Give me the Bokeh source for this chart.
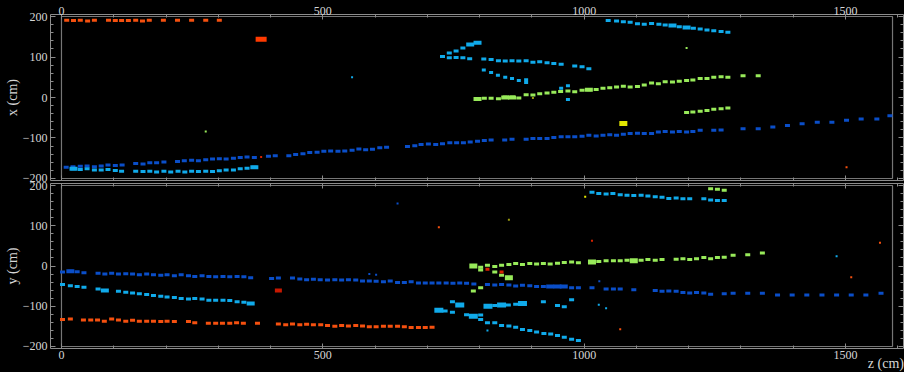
from bokeh.plotting import figure
from bokeh.layouts import column
from bokeh.models import Range1d, LinearAxis, SingleIntervalTicker, Div
from bokeh.embed import file_html
from bokeh.resources import INLINE

# ---------------- data : top view (z vs x) ----------------
tpc_z = [0, 1590]
tpc_edge = [-200, 200]

xz_A_z = [10, 23, 36, 50, 63, 90, 103, 115, 128, 142, 155, 168, 195, 222, 249, 276, 302]
xz_A_x = [191, 190, 191, 189, 191, 191, 190, 190, 190, 191, 189, 191, 191, 191, 191, 191, 191]

xz_B_z = [9, 22, 36, 49, 63, 76, 89, 103, 116, 142, 156, 169, 182, 196, 222, 235, 249, 262, 276, 289,
          302, 315, 329, 342, 355, 369, 396, 409, 435, 448, 462, 475, 489, 502, 515, 529, 542, 556, 569, 582,
          595, 609, 622, 662, 676, 688, 702, 716, 729, 743, 756, 769, 782, 796, 809, 822, 848, 862, 889, 902,
          915, 929, 942, 956, 969, 982, 996, 1009, 1023, 1036, 1049, 1062, 1075, 1088, 1102, 1115, 1129, 1142,
          1155, 1169, 1182, 1196, 1208, 1222, 1248, 1262, 1304, 1333, 1361, 1389, 1417, 1446, 1474, 1502, 1530,
          1560, 1585]
xz_B_x = [-172, -171, -170, -169, -171, -169, -167, -168, -167, -163, -164, -161, -161, -159, -158, -156, -155,
          -156, -154, -152, -151, -152, -150, -148, -147, -148, -145, -144, -144, -141, -139, -136, -135, -133,
          -132, -133, -132, -130, -127, -129, -128, -124, -123, -121, -119, -116, -115, -116, -114, -112, -112,
          -112, -110, -108, -106, -105, -105, -103, -103, -101, -101, -101, -99, -97, -97, -97, -96, -93, -95,
          -93, -92, -93, -91, -89, -88, -89, -89, -85, -84, -85, -84, -85, -84, -81, -81, -80, -77, -77, -73,
          -69, -65, -61, -61, -56, -53, -53, -45]

xz_C_z = [23, 36, 49, 63, 76, 89, 103, 115, 142, 156, 169, 182, 196, 209, 223, 236, 249, 262, 276, 289,
          302, 315, 329, 342, 355, 369]
xz_C_x = [-176, -178, -176, -179, -179, -178, -180, -182, -182, -183, -182, -184, -182, -184, -182, -184,
          -182, -183, -182, -183, -181, -179, -179, -176, -175, -172]

xz_D_z = [729, 742, 755, 768]
xz_D_x = [101, 110, 115, 122]
xz_D2_z = [742, 755, 768, 781, 808, 822, 836, 849, 862, 875, 889, 902, 915, 929, 942, 956, 982, 996, 1009]
xz_D2_x = [98, 99, 98, 96, 95, 94, 91, 90, 91, 90, 91, 87, 88, 86, 84, 82, 78, 76, 71]
xz_E_z = [808, 822, 835, 849, 862, 875, 889, 889, 956, 969, 969]
xz_E_x = [68, 62, 55, 50, 47, 42, 44, 37, 23, 29, -5]

xz_G_z = [1046, 1062, 1075, 1088, 1102, 1115, 1129, 1143, 1155, 1169, 1182, 1196, 1209, 1222, 1235, 1248,
          1262, 1275]
xz_G_x = [190, 189, 187, 186, 182, 181, 183, 181, 179, 178, 175, 173, 171, 169, 167, 165, 163, 161]

xz_F_z = [796, 809, 822, 836, 849, 863, 875, 889, 902, 915, 929, 942, 955, 969, 982, 996, 1009, 1023, 1036,
          1049, 1062, 1075, 1088, 1102, 1115, 1129, 1142, 1155, 1169, 1182, 1196, 1208, 1222, 1235, 1248,
          1262, 1275, 1304, 1333]
xz_F_x = [-4, -2, -2, -3, 1, 1, -1, 7, 6, 9, 11, 13, 15, 16, 14, 18, 19, 20, 23, 24, 26, 28, 26, 27, 31, 36,
          34, 39, 38, 40, 42, 43, 47, 47, 50, 51, 50, 54, 54]
xz_F2_z = [1196, 1208, 1222, 1235, 1248, 1262, 1275]
xz_F2_x = [-37, -36, -34, -32, -29, -28, -26]

xz_big_z = [23, 369, 782, 796, 796, 849, 862, 1009, 1169, 1196]
xz_big_x = [-176, -172, 131, 135, -4, 0, 0, 19, 178, 173]
xz_big_c = ["cyan", "cyan", "cyan", "cyan", "green", "green", "green", "green", "cyan", "cyan"]

xz_tiny_z = [382, 276, 1196, 1502, 902, 556]
xz_tiny_x = [-147, -84, 122, -172, -1, 50]
xz_tiny_c = ["red", "green", "green", "orange", "olive", "cyan"]

xz_orange_blob = (382, 144)
xz_yellow_blob = (1075, -64)

# ---------------- data : side view (z vs y) ----------------
yz_A_z = [2, 17, 42, 56, 69, 82, 96, 109, 123, 136, 149, 163, 176, 190, 202, 216, 243, 255, 281, 295,
          308, 322, 335, 348, 375, 415, 429, 442, 456, 469, 482, 496, 509, 523, 536, 549, 563, 576, 589, 602,
          616, 629, 643, 656, 669, 683, 696, 709]
yz_A_y = [-133, -132, -134, -134, -134, -137, -132, -134, -137, -135, -137, -137, -137, -138, -137, -138,
          -138, -141, -142, -142, -142, -142, -141, -142, -142, -144, -146, -144, -146, -145, -146, -146,
          -148, -150, -148, -149, -148, -149, -151, -151, -150, -150, -150, -151, -153, -153, -153, -152]

yz_B_z = [2, 17, 30, 43, 70, 83, 96, 109, 123, 136, 149, 163, 176, 190, 202, 216, 229, 243, 255, 269,
          282, 295, 309, 322, 336, 349, 362, 402, 415, 442, 456, 469, 482, 495, 509, 523, 536, 549, 563, 576,
          589, 602, 616, 629, 643, 656, 669, 683, 696, 709, 722, 736, 749, 762, 775, 789, 815, 829, 842, 856,
          869, 882, 896, 909, 922, 935, 949, 961, 976, 989, 1015, 1042, 1056, 1069, 1095, 1136, 1149, 1162,
          1176, 1189, 1202, 1215, 1229, 1242, 1268, 1285, 1313, 1341, 1370, 1398, 1426, 1455, 1483, 1511,
          1539, 1568]
yz_B_y = [-15, -13, -14, -17, -18, -20, -18, -20, -19, -20, -22, -20, -22, -23, -22, -24, -22, -24, -26, -24,
          -26, -27, -26, -27, -26, -27, -29, -31, -30, -30, -32, -34, -33, -34, -35, -34, -35, -34, -35, -37,
          -37, -38, -39, -37, -41, -41, -39, -42, -42, -42, -42, -42, -43, -42, -43, -45, -46, -47, -46, -47,
          -50, -48, -49, -51, -51, -51, -51, -51, -54, -54, -54, -57, -57, -57, -59, -61, -63, -62, -63, -66,
          -67, -66, -67, -70, -69, -68, -68, -68, -72, -72, -72, -72, -72, -72, -72, -68]

yz_C_z = [2, 17, 30, 43, 70, 83, 109, 123, 136, 149, 163, 176, 190, 202, 216, 229, 243, 255, 269, 282,
          295, 309, 322, 336, 349, 362]
yz_C_y = [-46, -49, -51, -53, -57, -61, -63, -65, -67, -69, -71, -73, -75, -77, -78, -81, -82, -81, -82, -85,
          -85, -85, -86, -89, -90, -93]

yz_mid_z = [734, 748, 748, 775, 802, 802, 829, 855, 869, 922, 949, 962, 976]
yz_mid_y = [-112, -115, -89, -121, -122, -133, -98, -97, -95, -89, -98, -101, -84]
yz_midbig_z = [722, 762, 788, 816, 842, 882]
yz_midbig_y = [-110, -97, -125, -100, -97, -93]

yz_low_z = [815, 829, 842, 856, 869, 882, 896, 909, 923, 936, 949, 962, 976, 989]
yz_low_y = [-141, -141, -148, -149, -152, -158, -160, -164, -168, -169, -173, -177, -182, -185]

yz_G_z = [1015, 1028, 1042, 1055, 1069, 1082, 1095, 1109, 1122, 1136, 1149, 1162, 1176, 1189, 1202, 1229,
          1242, 1255, 1268]
yz_G_y = [183, 180, 179, 180, 177, 176, 175, 176, 174, 172, 171, 168, 169, 167, 167, 167, 164, 163, 163]
yz_Gg_z = [1242, 1255, 1268]
yz_Gg_y = [192, 191, 188]

yz_F_z = [802, 815, 829, 842, 856, 869, 882, 896, 909, 922, 935, 949, 962, 976, 989, 1015, 1028, 1042, 1056,
          1069, 1082, 1095, 1109, 1122, 1136, 1149, 1176, 1189, 1202, 1215, 1229, 1242, 1255, 1268, 1285,
          1313, 1341]
yz_F_y = [-3, 2, -1, 2, 4, 6, 4, 6, 5, 6, 5, 7, 9, 10, 8, 10, 11, 13, 13, 13, 14, 13, 14, 16, 14, 16, 17, 18,
          16, 18, 21, 18, 21, 22, 27, 28, 32]
yz_F2_z = [802, 829, 842, 788, 802]
yz_F2_y = [-10, -15, -23, -62, -54]
yz_Fbig_z = [788, 856, 1015, 1095]
yz_Fbig_y = [0, -29, 10, 13]
yz_red_z = [815, 842]
yz_red_y = [-8, -15]

yz_big_z = [17, 83, 362, 935, 949, 961]
yz_big_y = [-13, -61, -93, -51, -51, -51]
yz_big_c = ["blue", "cyan", "cyan", "blue", "blue", "blue"]

yz_tiny_z = [722, 856, 1015, 1069, 1566, 1511, 1483, 1042, 1028, 815, 643, 589, 602, 1029, 1002]
yz_tiny_y = [96, 115, 63, -157, 58, -28, 24, -105, -96, -160, 155, -20, -22, -38, 172]
yz_tiny_c = ["orange", "olive", "red", "orange", "orange", "orange", "cyan", "cyan", "cyan", "cyan",
             "blue", "blue", "blue", "blue", "yellow"]

yz_red_blob = (415, -61)

# ---------------- style ----------------
FONT = "Liberation Serif"
BG = "#000000"
AXC = "#8c8c8c"
BOXC = "#767676"
TXT = "#d6d6d6"
COL = {"orange": "#f5500f", "red": "#d82200", "blue": "#0a4ec8", "cyan": "#10aaea",
       "green": "#98ea5a", "yellow": "#e2e600", "olive": "#9a9a10"}

Z_RANGE = (-21, 1611)
V_RANGE = (-205, 205)


def style_axis(ax, labels):
    ax.axis_line_color = AXC
    ax.major_tick_line_color = AXC
    ax.minor_tick_line_color = AXC
    ax.major_tick_in = 5
    ax.major_tick_out = 0
    ax.minor_tick_in = 3
    ax.minor_tick_out = 0
    ax.major_label_text_font = FONT
    ax.major_label_text_color = TXT
    if labels:
        ax.major_label_text_font_size = "12px"
        ax.major_label_standoff = 2
    else:
        ax.major_label_text_font_size = "1px"
        ax.major_label_text_alpha = 0
        ax.major_label_standoff = 0
    ax.axis_label_text_font = FONT
    ax.axis_label_text_font_style = "normal"
    ax.axis_label_text_font_size = "14px"
    ax.axis_label_text_color = TXT
    ax.axis_label_standoff = 0


def make_panel(height, top_labels, bottom_labels, ylabel, bt, bb, border_fill):
    p = figure(width=904, height=height, x_range=Range1d(*Z_RANGE), y_range=Range1d(*V_RANGE),
               output_backend="svg", toolbar_location=None,
               x_axis_location=None, y_axis_location=None,
               background_fill_color=BG, border_fill_color=border_fill, outline_line_color=None,
               min_border_left=50, min_border_right=1, min_border_top=bt, min_border_bottom=bb)
    p.grid.visible = False
    xt = SingleIntervalTicker(interval=500, num_minor_ticks=5)
    yt = SingleIntervalTicker(interval=100, num_minor_ticks=5)
    top = LinearAxis(ticker=xt)
    bottom = LinearAxis(ticker=xt)
    left = LinearAxis(ticker=yt, axis_label=ylabel)
    right = LinearAxis(ticker=yt)
    style_axis(top, top_labels)
    style_axis(bottom, bottom_labels)
    if top_labels:
        top.major_label_standoff = 0
    style_axis(left, True)
    left.major_label_standoff = 3
    style_axis(right, False)
    p.add_layout(top, "above")
    p.add_layout(bottom, "below")
    p.add_layout(left, "left")
    p.add_layout(right, "right")
    # detector active volume outline
    p.quad(left=[tpc_z[0]], right=[tpc_z[1]], bottom=[tpc_edge[0]], top=[tpc_edge[1]],
           fill_color=None, line_color=BOXC, line_width=1.2)
    return p


def hits(p, z, v, color, w=5, h=3):
    p.rect(z, v, width=w, height=h, width_units="screen", height_units="screen",
           fill_color=color, line_color=None)


# ---------------- top panel ----------------
p1 = make_panel(188, True, False, "x (cm)", 14, 8, BG)
hits(p1, xz_A_z, xz_A_x, COL["orange"])
hits(p1, xz_B_z, xz_B_x, COL["blue"])
hits(p1, xz_C_z, xz_C_x, COL["cyan"])
hits(p1, xz_D_z, xz_D_x, COL["cyan"])
hits(p1, xz_D2_z, xz_D2_x, COL["cyan"])
hits(p1, xz_E_z, xz_E_x, COL["cyan"], 4, 3)
hits(p1, xz_G_z, xz_G_x, COL["cyan"])
hits(p1, xz_F_z, xz_F_x, COL["green"])
hits(p1, xz_F2_z, xz_F2_x, COL["green"])
hits(p1, xz_big_z, xz_big_x, [COL[c] for c in xz_big_c], 8, 4)
hits(p1, xz_tiny_z, xz_tiny_x, [COL[c] for c in xz_tiny_c], 2, 2)
hits(p1, [xz_orange_blob[0]], [xz_orange_blob[1]], "#ff3a00", 11, 5)
hits(p1, [xz_yellow_blob[0]], [xz_yellow_blob[1]], COL["yellow"], 8, 5)

# ---------------- bottom panel ----------------
p2 = make_panel(198, False, True, "y (cm)", 8, 25, None)
p2.margin = (-13, 0, 0, 0)
hits(p2, yz_A_z, yz_A_y, COL["orange"])
hits(p2, yz_B_z, yz_B_y, COL["blue"])
hits(p2, yz_C_z, yz_C_y, COL["cyan"])
hits(p2, yz_mid_z, yz_mid_y, COL["cyan"])
hits(p2, yz_midbig_z, yz_midbig_y, COL["cyan"], 9, 5)
hits(p2, yz_low_z, yz_low_y, COL["cyan"])
hits(p2, yz_G_z, yz_G_y, COL["cyan"])
hits(p2, yz_Gg_z, yz_Gg_y, COL["green"])
hits(p2, yz_F_z, yz_F_y, COL["green"])
hits(p2, yz_F2_z, yz_F2_y, COL["green"])
hits(p2, yz_Fbig_z, yz_Fbig_y, COL["green"], 8, 5)
hits(p2, yz_red_z, yz_red_y, COL["red"], 4, 3)
hits(p2, yz_big_z, yz_big_y, [COL[c] for c in yz_big_c], 8, 4)
hits(p2, yz_tiny_z, yz_tiny_y, [COL[c] for c in yz_tiny_c], 2, 2)
hits(p2, [yz_red_blob[0]], [yz_red_blob[1]], "#c81800", 7, 4)

zlabel = Div(text="z (cm)", width=904, height=16, margin=(-17, 0, 0, 0),
             styles={"text-align": "right", "font-family": FONT, "font-size": "14px",
                     "line-height": "16px", "color": TXT})

layout = column(p1, p2, zlabel, spacing=0, styles={"background-color": "black"})
open("out.html", "w").write(file_html(layout, INLINE))
